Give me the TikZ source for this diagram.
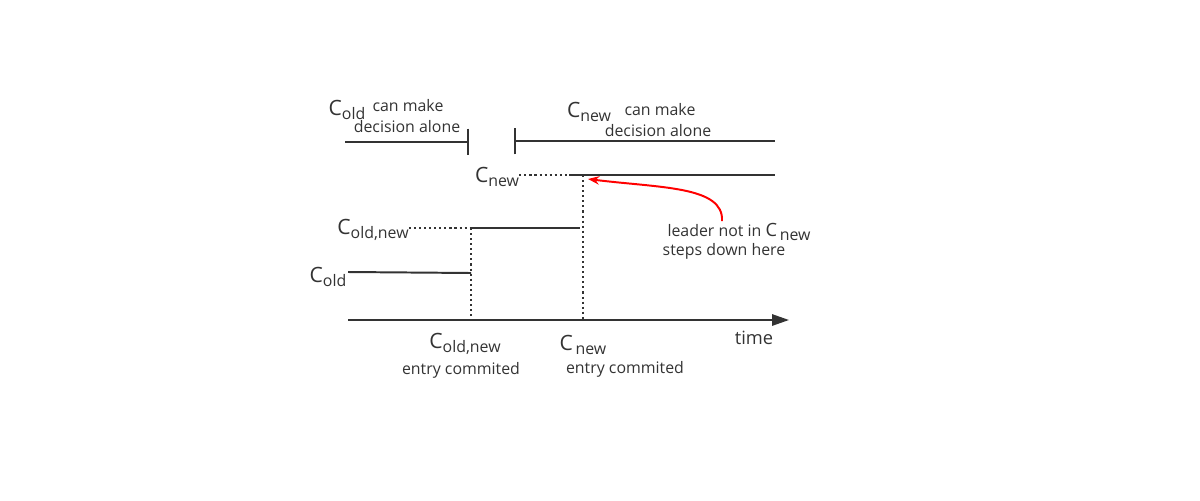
\documentclass[tikz,border=0pt]{standalone}
\usepackage{fontspec}
\setmainfont{Open Sans}
\definecolor{inkgray}{rgb}{0.2, 0.2, 0.2}
\usetikzlibrary{positioning}
\usetikzlibrary{arrows.meta}
\newcommand{\cname}[2][15]{{\fontsize{#1}{18}\selectfont C}\raisebox{-0.55ex}{#2}}

\begin{document}
\begin{tikzpicture}[x=0.025cm, y=-0.025cm]
  \tikzset{
    phase/.style={draw=inkgray, line width=1.4pt},
    pending/.style={draw=inkgray, line width=1.5pt, dash pattern=on 1.5pt off 2.1pt},
    lbl/.style={inner sep=0pt, text=inkgray, font=\fontsize{11.3}{13}\selectfont}
  }
  \useasboundingbox (0,0) rectangle (1200,500);

  % time axis
  \coordinate (t0) at (348,320);
  \coordinate (t1) at (789,320);
  \draw[phase, -{Triangle[length=12pt, width=8pt]}] (t0) -- (t1);
  \node[lbl, font=\fontsize{13}{15}\selectfont] (time) at (754,338) {time};

  % who decides alone
  \coordinate (a0) at (345,142);
  \coordinate (a1) at (469,142);
  \coordinate (b0) at (514,141);
  \coordinate (b1) at (775,141);
  \draw[phase, -{Bar[width=19pt]}] (a0) -- (a1);
  \draw[phase, {Bar[width=19pt]}-] (b0) -- (b1);
  \node[lbl] (oldc) at (347,110) {\cname{old}};
  \node[lbl] (olda) at (408,106) {can make};
  \node[lbl] (oldb) at (407,127) {decision alone};
  \node[lbl] (newc) at (589,112) {\cname{new}};
  \node[lbl] (newa) at (660,110) {can make};
  \node[lbl] (newb) at (658,131) {decision alone};

  % C_new
  \node[lbl] (cnew) at (497,177) {\cname{new}};
  \coordinate (n0) at (569,175);
  \coordinate (n1) at (775,175);
  \draw[pending] (cnew.east |- n0) -- (n0);
  \draw[phase] (n0) -- (n1);

  % C_old,new
  \node[lbl] (coldnew) at (373,230) {\cname{old,new}};
  \coordinate (m0) at (470,228);
  \coordinate (m1) at (580,228);
  \draw[pending] (coldnew.east |- m0) -- (m0);
  \draw[phase] (m0) -- (m1);

  % C_old
  \node[lbl] (cold) at (328,277) {\cname{old}};
  \coordinate (o0) at (348,272);
  \coordinate (o1) at (471,273);
  \draw[phase] (o0) -- (o1);

  % commit points
  \coordinate (k1) at (471,228);
  \coordinate (k2) at (583,175);
  \draw[pending] (k1) -- (k1 |- t0);
  \draw[pending] (k2) -- (k2 |- t0);
  \node[lbl] (k1c) at (465,344) {\cname{old,new}};
  \node[lbl] (k1e) at (461,370) {entry commited};
  \node[lbl] (k2c) at (583,345) {\cname{\,new}};
  \node[lbl] (k2e) at (625,369) {entry commited};

  % leader steps down
  \node[lbl] (leadera) at (739,232) {leader not in \cname[13]{\,new}};
  \node[lbl] (leaderb) at (724,251) {steps down here};
  \coordinate (s0) at (722,221);
  \coordinate (s1) at (588,179);
  \draw[red, line width=1.4pt, -{Stealth[length=8pt, width=6pt]}] (s0) .. controls (724,186) and (660,188) .. (s1);
\end{tikzpicture}
\end{document}
